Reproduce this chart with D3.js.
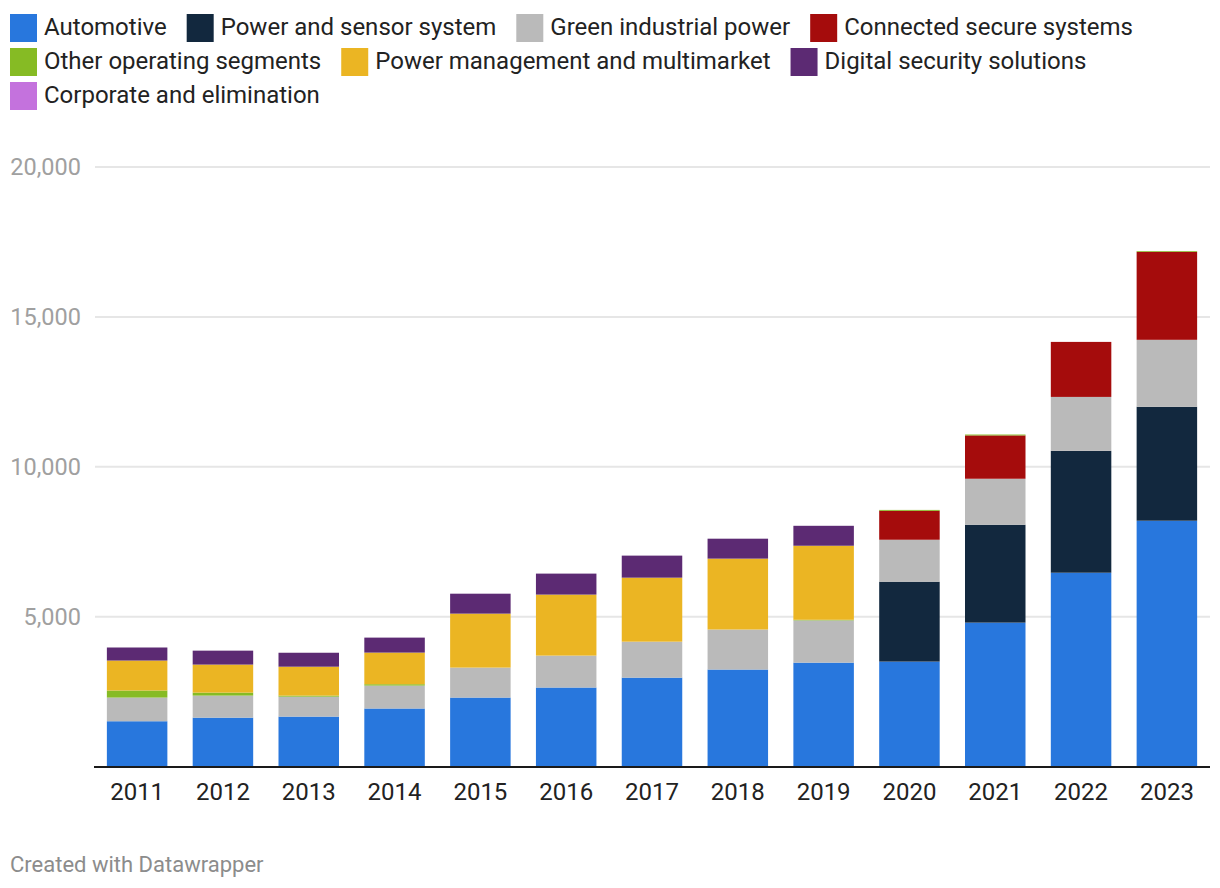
<!DOCTYPE html>
<html>
<head>
<meta charset="utf-8">
<script src="https://cdn.jsdelivr.net/npm/d3@7"></script>
<style>
  html, body { margin: 0; padding: 0; background: #fff; }
  svg { display: block; font-family: Roboto, "Noto Sans", sans-serif; }
</style>
</head>
<body>
<svg id="chart" width="1220" height="888"></svg>
<script>
const years = ["2011","2012","2013","2014","2015","2016","2017","2018","2019","2020","2021","2022","2023"];
const seriesNames = ["Automotive","Power and sensor system","Green industrial power","Connected secure systems","Other operating segments","Power management and multimarket","Digital security solutions","Corporate and elimination"];
const seriesColors = ["#2877dd","#12283e","#bababa","#a50c0c","#86bb24","#ebb523","#5c2a73","#c472dd"];

const automotive = [1510, 1630, 1665, 1935, 2300, 2635, 2965, 3235, 3465, 3500, 4800, 6465, 8200];
const powerSensor = [0, 0, 0, 0, 0, 0, 0, 0, 0, 2665, 3265, 4065, 3800];
const greenIndustrial = [790, 735, 665, 765, 1000, 1065, 1200, 1335, 1410, 1400, 1535, 1800, 2235];
const connectedSecure = [0, 0, 0, 0, 0, 0, 0, 0, 0, 965, 1445, 1835, 2935];
const otherSegments = [235, 100, 35, 45, 0, 0, 0, 0, 20, 30, 30, 0, 25];
const powerMgmt = [1000, 935, 965, 1055, 1800, 2035, 2135, 2365, 2470, 0, 0, 0, 0];
const digitalSecurity = [435, 465, 465, 500, 665, 700, 735, 665, 665, 0, 0, 0, 0];
const corporate = [0, 0, 0, 0, 0, 0, 0, 0, 0, 0, 0, 0, 0];

const yTicks = [5000, 10000, 15000, 20000];

const seriesValues = [automotive, powerSensor, greenIndustrial, connectedSecure, otherSegments, powerMgmt, digitalSecurity, corporate];

const table = years.map((y, i) => {
  const row = { year: y };
  seriesNames.forEach((n, k) => row[n] = seriesValues[k][i]);
  return row;
});

const svg = d3.select("#chart");

// Legend (flow layout)
const legend = svg.append("g");
const legendFont = 24;
let lx = 10, ly = 14;
const rowH = 34, maxX = 1210;
seriesNames.forEach((n, k) => {
  const g = legend.append("g");
  g.append("rect").attr("width", 27).attr("height", 28).attr("fill", seriesColors[k]);
  const t = g.append("text").attr("x", 34).attr("y", 12.5).attr("dy", "0.35em")
    .attr("font-size", legendFont).attr("fill", "#222").text(n);
  const w = 34 + t.node().getComputedTextLength();
  if (lx + w > maxX) { lx = 10; ly += rowH; }
  g.attr("transform", `translate(${lx},${ly})`);
  lx += w + 20;
});

const x = d3.scaleBand().domain(years).range([94, 1210]).paddingInner(0.295).paddingOuter(0.15);
const y = d3.scaleLinear().domain([0, 20000]).range([766.5, 167]);

// gridlines
const grid = svg.append("g");
grid.selectAll("line").data(yTicks).join("line")
  .attr("x1", 95).attr("x2", 1210)
  .attr("y1", d => y(d)).attr("y2", d => y(d))
  .attr("stroke", "#e6e6e6").attr("stroke-width", 2);

// y axis labels
const yAxis = d3.axisLeft(y).tickValues(yTicks).tickFormat(d3.format(",")).tickSize(0).tickPadding(0);
const yg = svg.append("g").attr("transform", "translate(81,0)").call(yAxis);
yg.select(".domain").remove();
yg.selectAll("text").attr("font-size", 23.5).attr("fill", "#a0a0a0").attr("font-family", "Roboto, sans-serif");

// stacks
const stack = d3.stack().keys(seriesNames).offset(d3.stackOffsetDiverging);
const layers = stack(table);
svg.append("g").selectAll("g").data(layers).join("g")
  .attr("fill", (d, i) => seriesColors[i])
  .selectAll("rect").data(d => d).join("rect")
  .attr("x", d => x(d.data.year))
  .attr("width", x.bandwidth())
  .attr("y", d => y(d[1]))
  .attr("height", d => Math.max(0, y(d[0]) - y(d[1])));

// baseline
svg.append("line").attr("x1", 94).attr("x2", 1210).attr("y1", 767).attr("y2", 767)
  .attr("stroke", "#1a1a1a").attr("stroke-width", 2);

// x axis labels
const xAxis = d3.axisBottom(x).tickSize(0).tickPadding(0);
const xg = svg.append("g").attr("transform", "translate(0,792)").call(xAxis);
xg.select(".domain").remove();
xg.selectAll("text").attr("dy", "0.35em").attr("font-size", 24).attr("fill", "#222").attr("font-family", "Roboto, sans-serif");

// footer
svg.append("text").attr("x", 10).attr("y", 864).attr("dy", "0.35em")
  .attr("font-size", 22).attr("fill", "#8c8c8c").text("Created with Datawrapper");
</script>
</body>
</html>
